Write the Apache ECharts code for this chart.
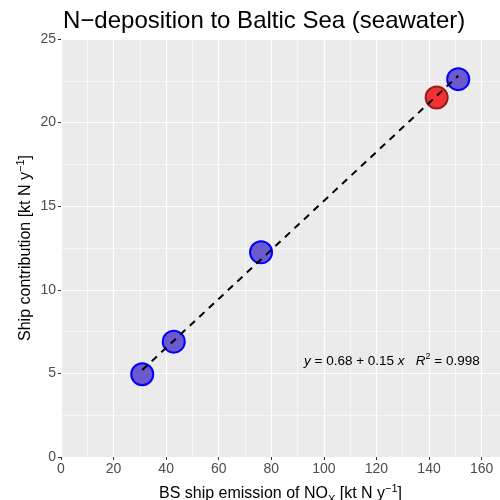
<!DOCTYPE html>
<html>
<head>
<meta charset="utf-8">
<script src="https://cdn.jsdelivr.net/npm/echarts@6/dist/echarts.min.js"></script>
<style>
  html, body { margin: 0; padding: 0; background: #fff; }
  #chart { width: 500px; height: 500px; }
</style>
</head>
<body>
<div id="chart"></div>
<script>
// values
var bluePoints = [[30.9, 4.95], [42.9, 6.9], [76.1, 12.24], [151.1, 22.6]];
var redPoints = [[142.9, 21.5]];
var fitLine = [[30.9, 5.2], [151.1, 22.8]];
var xTicks = { min: 0, max: 167, interval: 20 };
var yTicks = { min: 0, max: 25, interval: 5 };

var font = 'Liberation Sans, Arial, sans-serif';

var chart = echarts.init(document.getElementById('chart'));

var axisCommon = function(t){
    return {
        type: 'value',
        min: t.min,
        max: t.max,
        interval: t.interval,
        axisLine: { show: false },
        axisTick: { show: true, length: 3, lineStyle: { color: '#333', width: 1 } },
        axisLabel: { color: '#4d4d4d', fontSize: 14, fontFamily: font, margin: 5 },
        splitLine: { show: true, lineStyle: { color: '#fff', width: 1.2 } },
        minorTick: { show: false, splitNumber: 2 },
        minorSplitLine: { show: true, lineStyle: { color: '#fff', width: 0.6 } },
        nameLocation: 'middle',
        nameTextStyle: { color: '#000', fontSize: 16, fontFamily: font, lineHeight: 22 }
    };
};

var supStyle = { fontSize: 11, fontFamily: font, color: '#000', verticalAlign: 'top', lineHeight: 10 };
var subStyle = { fontSize: 11, fontFamily: font, color: '#000', verticalAlign: 'bottom', lineHeight: 14 };

var xAxis = axisCommon(xTicks);
xAxis.axisLabel.showMaxLabel = false;
xAxis.axisTick.customValues = [0, 20, 40, 60, 80, 100, 120, 140, 160];
xAxis.name = 'BS ship emission of NO{sub|X} [kt N y{sup|\u22121}]';
xAxis.nameGap = 26;
xAxis.nameTextStyle.rich = { sub: subStyle, sup: supStyle };

var yAxis = axisCommon(yTicks);
yAxis.name = 'Ship contribution [kt N y{sup|\u22121}]';
yAxis.nameGap = 24;
yAxis.nameMoveOverlap = false;
yAxis.nameTextStyle.rich = { sup: supStyle };

var option = {
    animation: false,
    backgroundColor: '#fff',
    title: {
        text: 'N\u2212deposition to Baltic Sea (seawater)',
        left: 58,
        top: 4,
        textStyle: { color: '#000', fontSize: 24, fontWeight: 'normal', fontFamily: font }
    },
    grid: {
        left: 61, top: 39, right: 0, bottom: 43,
        outerBoundsMode: 'none',
        backgroundColor: '#ebebeb', show: true, borderWidth: 0
    },
    xAxis: xAxis,
    yAxis: yAxis,
    graphic: [{
        type: 'text',
        left: 304,
        top: 352,
        style: {
            text: '{i|y} = 0.68 + 0.15 {i|x}   {i|R}{sup|2} = 0.998',
            fill: '#000',
            fontSize: 13.5,
            lineHeight: 18,
            fontFamily: font,
            rich: {
                i: { fontStyle: 'italic', fontSize: 13.5, fontFamily: font, lineHeight: 18 },
                sup: { fontSize: 9, fontFamily: font, verticalAlign: 'top', lineHeight: 8 }
            }
        },
        z: 100
    }],
    series: [{
        type: 'line',
        data: fitLine,
        symbol: 'none',
        lineStyle: { color: '#000', width: 2, type: [7, 6] },
        z: 3
    }, {
        type: 'scatter',
        data: bluePoints,
        symbolSize: 22,
        itemStyle: { color: '#6a5acd', borderColor: '#0000ff', borderWidth: 2, opacity: 1 },
        z: 2
    }, {
        type: 'scatter',
        data: redPoints,
        symbolSize: 22,
        itemStyle: { color: '#f23232', borderColor: '#9a1c1c', borderWidth: 2, opacity: 1 },
        z: 2
    }]
};

chart.setOption(option);
</script>
</body>
</html>
